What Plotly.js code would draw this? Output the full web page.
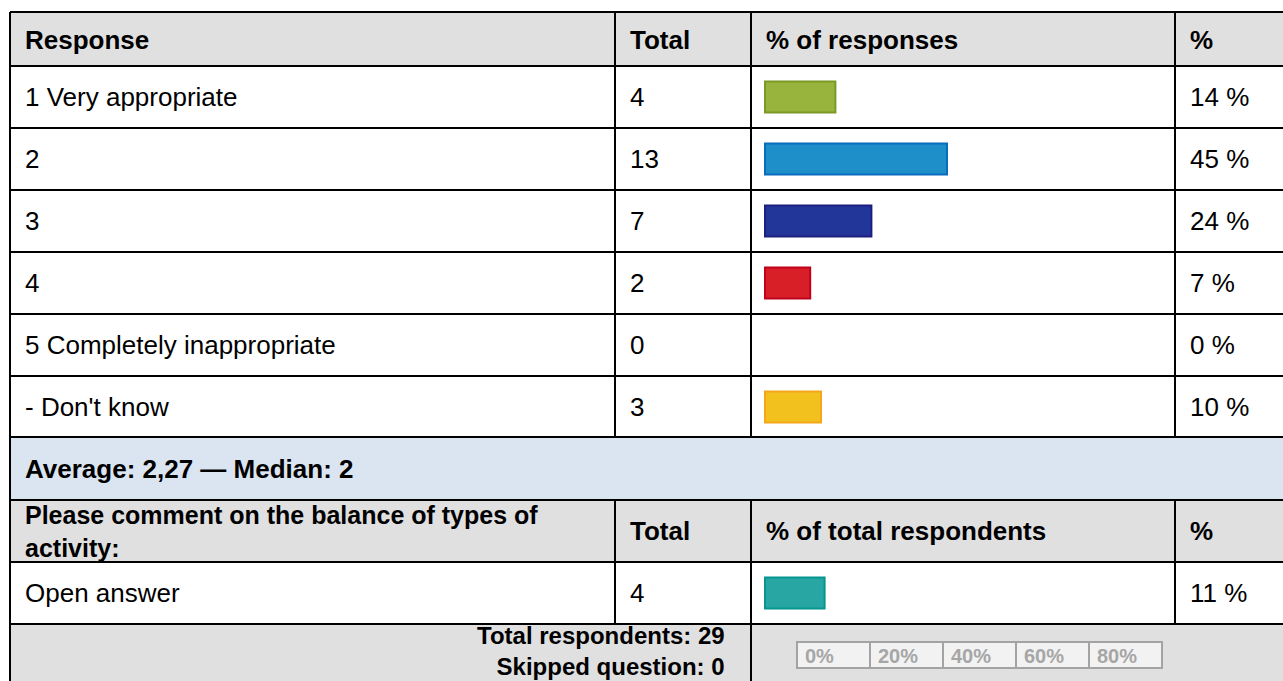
<!DOCTYPE html>
<html>
<head>
<meta charset="utf-8">
<script src="https://cdn.plot.ly/plotly-3.0.1.min.js"></script>
<style>html,body{margin:0;padding:0;background:#fff;overflow:hidden}#chart{width:1283px;height:681px}</style>
</head>
<body>
<div id="chart"></div>
<script>
// ---- data ----
const headers = ['Response', 'Total', '% of responses', '%'];
const responses = ['1 Very appropriate', '2', '3', '4', '5 Completely inappropriate', "- Don't know"];
const totals = [4, 13, 7, 2, 0, 3];
const pcts = [14, 45, 24, 7, 0, 10];
const barColors = ['#98b43c', '#1e8fc9', '#22369a', '#d81f28', '#c8c8c8', '#f3c11e'];
const barBorders = ['#7a9a25', '#0b6bbd', '#1c1f7e', '#c0021c', '#a0a0a0', '#f4a61c'];
const statsText = 'Average: 2,27 — Median: 2';
const openHeaders = ['Please comment on the balance of types of', 'activity:', 'Total', '% of total respondents', '%'];
const openLabels = ['Open answer'];
const openTotals = [4];
const openPcts = [11];
const openColor = '#27a6a4';
const openBorder = '#079590';
const totalRespondents = 29;
const skippedQuestion = 0;
const scaleTicks = ['0%', '20%', '40%', '60%', '80%'];

// ---- geometry helpers (pixels -> paper) ----
const W = 1283, H = 681;
const px = x => x / W;
const py = y => 1 - y / H;
const PXPERPCT = 3.6;          // bar scale
const BAR0 = 765;              // left edge of bars
const MINPAD = 20 / PXPERPCT;  // bars have a minimum visible length
const FONT = 'Liberation Sans, Arial, sans-serif';
const FS = 26;

const shapes = [];
function rect(x0, y0, x1, y1, fill, line, lw) {
  shapes.push({type: 'rect', xref: 'paper', yref: 'paper', x0: px(x0), x1: px(x1), y0: py(y1), y1: py(y0),
    fillcolor: fill, line: {color: line || 'rgba(0,0,0,0)', width: lw || 0}, layer: 'below'});
}
function line(x0, y0, x1, y1, color, lw) {
  shapes.push({type: 'line', xref: 'paper', yref: 'paper', x0: px(x0), x1: px(x1), y0: py(y0), y1: py(y1),
    line: {color: color || '#000', width: lw || 2}, layer: 'above'});
}

// backgrounds
rect(10, 12, 1290, 66, '#e0e0e0');
rect(10, 437, 1290, 500, '#dbe5f1');
rect(10, 500, 1290, 562, '#e0e0e0');
rect(10, 624, 1290, 690, '#e0e0e0');

// grid lines
[12, 66, 128, 190, 252, 314, 376, 437, 500, 562, 624].forEach(y => line(10, y, 1290, y));
line(10, 12, 10, 690);
[615, 1175].forEach(x => { line(x, 12, x, 437); line(x, 500, x, 624); });
line(751, 12, 751, 437); line(751, 500, 751, 690);

// scale legend box
const SX0 = 797, SCW = 73, SY0 = 642, SY1 = 668;
shapes.push({type: 'rect', xref: 'paper', yref: 'paper', x0: px(SX0), x1: px(SX0 + SCW * scaleTicks.length),
  y0: py(SY1), y1: py(SY0), fillcolor: '#f2f2f2', line: {color: '#a3a3a3', width: 2}, layer: 'above'});
for (let i = 1; i < scaleTicks.length; i++) line(SX0 + SCW * i, SY0, SX0 + SCW * i, SY1, '#a3a3a3', 2);

// ---- annotations ----
const ann = [];
function txt(text, x, y, opts) {
  opts = opts || {};
  ann.push(Object.assign({text: text, xref: 'paper', yref: 'paper', x: px(x), y: py(y),
    xanchor: 'left', yanchor: 'middle', showarrow: false,
    font: {family: FONT, size: FS, color: '#000'}}, opts));
}
const B = s => '<b>' + s + '</b>';
const colX = [23, 628, 764, 1188];
headers.forEach((h, i) => txt(B(h), colX[i], 40));
responses.forEach((r, i) => {
  const yc = 97 + 62 * i;
  txt(r, colX[0], yc);
  txt(String(totals[i]), colX[1], yc);
  txt(pcts[i] + ' %', colX[3], yc);
});
txt(B(statsText), colX[0], 469);
txt(B(openHeaders[0]) + '<br>' + B(openHeaders[1]), colX[0], 531, {align: 'left', font: {family: FONT, size: 25, color: '#000'}});
txt(B(openHeaders[2]), colX[1], 531);
txt(B(openHeaders[3]), colX[2], 531);
txt(B(openHeaders[4]), colX[3], 531);
openLabels.forEach((r, i) => {
  txt(r, colX[0], 593);
  txt(String(openTotals[i]), colX[1], 593);
  txt(openPcts[i] + ' %', colX[3], 593);
});
txt(B('Total respondents: ' + totalRespondents) + '<br>' + B('Skipped question: ' + skippedQuestion),
    726, 681, {xanchor: 'right', yanchor: 'bottom', align: 'right', borderpad: 0,
    font: {family: FONT, size: 24, color: '#000'}});
scaleTicks.forEach((t, i) => txt(B(t), SX0 + SCW * i + 6, 656,
  {font: {family: FONT, size: 20, color: '#a6a6a6'}}));

// ---- bar traces ----
const xmin = (751 - BAR0) / PXPERPCT, xmax = (1175 - BAR0) / PXPERPCT;
const traces = [
  {type: 'bar', orientation: 'h', y: responses,
   x: pcts.map(p => p > 0 ? p + MINPAD : null),
   width: 0.5, marker: {color: barColors, line: {color: barBorders, width: 2}},
   hoverinfo: 'skip', xaxis: 'x', yaxis: 'y'},
  {type: 'bar', orientation: 'h', y: openLabels,
   x: openPcts.map(p => p > 0 ? p + MINPAD : null),
   width: 0.5, marker: {color: openColor, line: {color: openBorder, width: 2}},
   hoverinfo: 'skip', xaxis: 'x', yaxis: 'y2'}
];

const layout = {
  width: W, height: H,
  margin: {l: 0, r: 0, t: 0, b: 0, pad: 0},
  paper_bgcolor: '#ffffff', plot_bgcolor: 'rgba(0,0,0,0)',
  showlegend: false,
  xaxis: {domain: [px(751), px(1175)], range: [xmin, xmax], visible: false, fixedrange: true},
  yaxis: {domain: [py(438), py(66)], type: 'category', range: [responses.length - 0.5, -0.5],
          visible: false, fixedrange: true, anchor: 'x'},
  yaxis2: {domain: [py(624), py(562)], type: 'category', range: [0.5, -0.5],
           visible: false, fixedrange: true, anchor: 'x'},
  shapes: shapes,
  annotations: ann
};

Plotly.newPlot('chart', traces, layout, {displayModeBar: false, staticPlot: true});
</script>
</body>
</html>
